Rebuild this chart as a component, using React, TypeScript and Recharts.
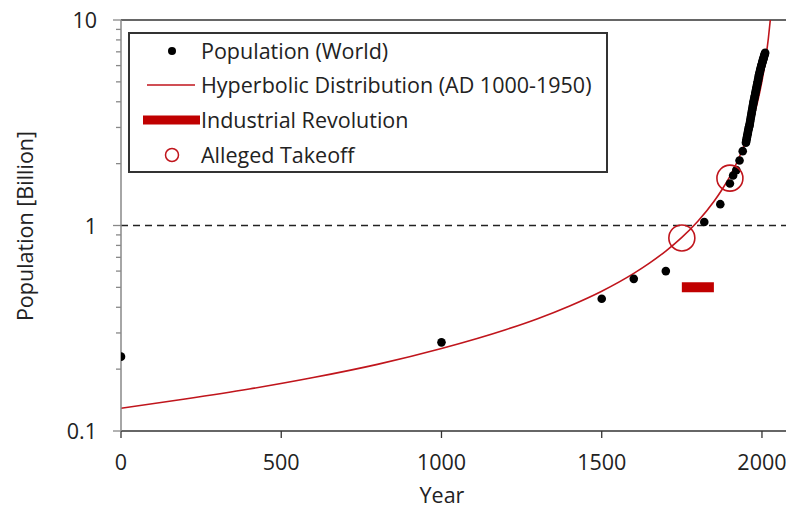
import {
  ComposedChart, Line, Scatter, XAxis, YAxis, ReferenceLine, Legend, Label
} from 'recharts';

// world population (billion)
const popYears = [
  0, 1000, 1500, 1600, 1700, 1820, 1870, 1900, 1910, 1920, 1930, 1940,
  1950, 1951, 1952, 1953, 1954, 1955, 1956, 1957, 1958, 1959,
  1960, 1961, 1962, 1963, 1964, 1965, 1966, 1967, 1968, 1969,
  1970, 1971, 1972, 1973, 1974, 1975, 1976, 1977, 1978, 1979,
  1980, 1981, 1982, 1983, 1984, 1985, 1986, 1987, 1988, 1989,
  1990, 1991, 1992, 1993, 1994, 1995, 1996, 1997, 1998, 1999,
  2000, 2001, 2002, 2003, 2004, 2005, 2006, 2007, 2008, 2009, 2010,
];
const popValues = [
  0.23, 0.27, 0.44, 0.55, 0.6, 1.04, 1.27, 1.6, 1.75, 1.86, 2.07, 2.3,
  2.53, 2.58, 2.63, 2.68, 2.73, 2.78, 2.83, 2.89, 2.94, 2.99,
  3.03, 3.07, 3.13, 3.2, 3.27, 3.34, 3.41, 3.48, 3.55, 3.63,
  3.7, 3.78, 3.86, 3.94, 4.01, 4.08, 4.15, 4.22, 4.29, 4.37,
  4.45, 4.53, 4.61, 4.69, 4.77, 4.86, 4.94, 5.03, 5.12, 5.21,
  5.33, 5.41, 5.49, 5.57, 5.65, 5.74, 5.82, 5.9, 5.98, 6.06,
  6.13, 6.21, 6.29, 6.37, 6.45, 6.53, 6.61, 6.69, 6.77, 6.85, 6.93,
];

// hyperbolic fit
const fitYears = [0, 200, 400, 600, 800, 1000, 1200, 1300, 1400, 1500, 1600, 1650, 1700, 1750, 1800, 1850, 1875, 1900, 1925, 1950, 1970, 1985, 2000, 2010, 2020, 2026];
const fitValues = [0.129, 0.143, 0.16, 0.182, 0.211, 0.252, 0.311, 0.352, 0.406, 0.479, 0.585, 0.658, 0.751, 0.875, 1.049, 1.308, 1.492, 1.736, 2.077, 2.583, 3.21, 3.92, 5.04, 6.23, 8.15, 10];

const industrialYears = [1750, 1850];
const industrialLevel = 0.5;

const takeoffYears = [1750, 1900];
const takeoffValues = [0.87, 1.7];

const xTicks = [0, 500, 1000, 1500, 2000];
const yMajor = [0.1, 1, 10];
const yTicks = [0.1, 0.2, 0.3, 0.4, 0.5, 0.6, 0.7, 0.8, 0.9, 1, 2, 3, 4, 5, 6, 7, 8, 9, 10];

const popData = popYears.map((year, i) => ({ year, pop: popValues[i] }));
const fitData = fitYears.map((year, i) => ({ year, fit: fitValues[i] }));
const irData = industrialYears.map((year) => ({ year, ir: industrialLevel }));
const takeoffData = takeoffYears.map((year, i) => ({ year, t: takeoffValues[i] }));

const FONT = '"Open Sans", sans-serif';
const FS = 21.5;
const RED = '#c0151c';

const YTick = (props: any) => {
  const { x, y, payload } = props;
  const major = yMajor.includes(payload.value);
  return (
    <g>
      <line x1={x - (major ? 8 : 5)} x2={x} y1={y} y2={y} stroke="#888" strokeWidth={1.3} />
      {major && (
        <text x={x - 24} y={y + 8} textAnchor="end" fontSize={FS} fontFamily={FONT} fill="#222">
          {payload.value}
        </text>
      )}
    </g>
  );
};

const XTick = (props: any) => {
  const { x, y, payload } = props;
  return (
    <g>
      <line x1={x} x2={x} y1={y} y2={y + 7} stroke="#333" strokeWidth={1.3} />
      <text x={x} y={y + 39} textAnchor="middle" fontSize={FS} fontFamily={FONT} fill="#222">
        {payload.value}
      </text>
    </g>
  );
};

const LegendBox = () => (
  <svg width={480} height={141} style={{ display: 'block' }}>
    <rect x={1} y={1} width={478} height={139} fill="#fff" stroke="#333" strokeWidth={2} />
    <circle cx={44} cy={19} r={4} fill="#000" />
    <text x={73} y={27} fontSize={FS} fontFamily={FONT} fill="#222">Population (World)</text>
    <line x1={19} x2={67} y1={53} y2={53} stroke={RED} strokeWidth={1.5} />
    <text x={73} y={61} fontSize={FS} fontFamily={FONT} fill="#222">Hyperbolic Distribution (AD 1000-1950)</text>
    <line x1={15} x2={72} y1={88} y2={88} stroke="#c00000" strokeWidth={9} />
    <text x={73} y={96} fontSize={FS} fontFamily={FONT} fill="#222">Industrial Revolution</text>
    <circle cx={44} cy={123} r={6.5} fill="none" stroke={RED} strokeWidth={1.5} />
    <text x={73} y={131} fontSize={FS} fontFamily={FONT} fill="#222">Alleged Takeoff</text>
  </svg>
);

const App = () => {
  return (
    <div style={{ position: 'absolute', left: 0, top: 0 }}>
      <ComposedChart width={786} height={509} margin={{ top: 20, right: 0, left: 0, bottom: 0 }}>
        <XAxis
          dataKey="year"
          type="number"
          domain={[0, 2075]}
          ticks={xTicks}
          allowDataOverflow
          height={78}
          stroke="#333"
          strokeWidth={1.5}
          tickLine={false}
          tickSize={0}
          tickMargin={0}
          tick={<XTick />}
        >
          <Label
            value="Year"
            content={() => (
              <text x={442} y={503} textAnchor="middle" fontSize={FS} fontFamily={FONT} fill="#222">Year</text>
            )}
          />
        </XAxis>
        <YAxis
          type="number"
          scale="log"
          domain={[0.1, 10]}
          ticks={yTicks}
          allowDataOverflow
          width={121}
          stroke="#888"
          strokeWidth={1.5}
          tickLine={false}
          tickSize={0}
          tickMargin={0}
          tick={<YTick />}
          interval={0}
        >
          <Label
            value="Population [Billion]"
            content={() => (
              <text
                x={24}
                y={226}
                transform="rotate(-90 24 226)"
                textAnchor="middle"
                dominantBaseline="central"
                fontSize={FS}
                fontFamily={FONT}
                fill="#222"
              >
                Population [Billion]
              </text>
            )}
          />
        </YAxis>
        <ReferenceLine y={10} stroke="#333" strokeWidth={1.5} />
        <ReferenceLine y={1} stroke="#222" strokeWidth={1.5} strokeDasharray="7 5" />
        <Line
          data={fitData}
          dataKey="fit"
          type="monotone"
          stroke={RED}
          strokeWidth={1.6}
          dot={false}
          isAnimationActive={false}
        />
        <Line
          data={irData}
          dataKey="ir"
          type="linear"
          stroke="#c00000"
          strokeWidth={10}
          strokeLinecap="butt"
          dot={false}
          isAnimationActive={false}
        />
        <Scatter
          data={popData}
          dataKey="pop"
          isAnimationActive={false}
          shape={(p: any) => <circle cx={p.cx} cy={p.cy} r={4.3} fill="#000" />}
        />
        <Scatter
          data={takeoffData}
          dataKey="t"
          isAnimationActive={false}
          shape={(p: any) => <circle cx={p.cx} cy={p.cy} r={13} fill="none" stroke={RED} strokeWidth={1.6} />}
        />
        <Legend
          layout="vertical"
          align="center"
          verticalAlign="middle"
          wrapperStyle={{ position: 'absolute', left: 128, top: 32, width: 480, height: 141 }}
          content={() => <LegendBox />}
        />
      </ComposedChart>
    </div>
  );
};

export default App;
